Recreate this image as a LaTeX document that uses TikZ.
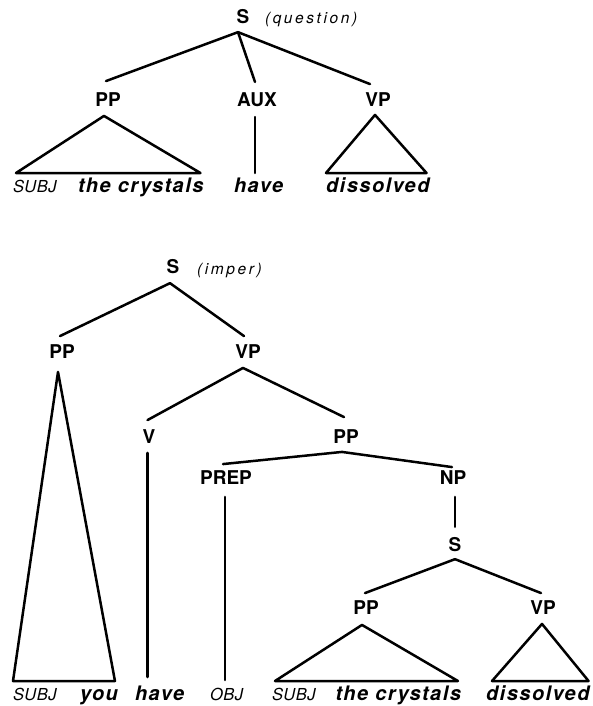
\documentclass[tikz,border=0pt]{standalone}
\usepackage{fontspec}
\newfontfamily\heros{TeX Gyre Heros}
\newfontfamily\herosw[LetterSpace=7.5]{TeX Gyre Heros}
\newfontfamily\herosr[LetterSpace=3]{TeX Gyre Heros}
\newfontfamily\herosls[LetterSpace=17]{TeX Gyre Heros}
\begin{document}
\begin{tikzpicture}[x=1pt,y=-1pt, line width=2.5pt, line join=round, line cap=round,
  cat/.style={font=\heros\bfseries\fontsize{19}{19}\selectfont, inner sep=0pt, outer sep=0pt, anchor=center},
  word/.style={font=\herosw\bfseries\itshape\fontsize{20}{20}\selectfont, inner sep=0pt, outer sep=0pt, anchor=base west, text height=19pt, text depth=0pt},
  role/.style={font=\herosr\itshape\fontsize{16.5}{16.5}\selectfont, inner sep=0pt, outer sep=0pt, anchor=base west, text height=19pt, text depth=0pt},
  note/.style={font=\herosls\itshape\fontsize{15.5}{15.5}\selectfont, inner sep=0pt, outer sep=0pt, anchor=base west}]
\useasboundingbox (0,0) rectangle (593,706);

% ---------- top tree ----------
\node[cat] (S1) at (243,17) {S};
\node[note] (q1) at (265,24) {(question)};
\node[cat] (PP1) at (108,100) {PP};
\node[cat] (AUX) at (257,100) {AUX};
\node[cat] (VP1) at (378,100) {VP};
\node[role] (subj1) at (13,192) {SUBJ};
\node[word] (crys1) at (78,192) {the crystals};
\node[word] (have1) at (234,192) {have};
\node[word] (dis1) at (326,192) {dissolved};

\draw ([shift={(-5,8)}]S1.south) -- ([shift={(-2,-12)}]PP1.north);
\draw ([shift={(-5,8)}]S1.south) -- ([shift={(-2,-11)}]AUX.north);
\draw ([shift={(-5,8)}]S1.south) -- ([shift={(-8,-9)}]VP1.north);
\draw ([shift={(-4,9)}]PP1.south) -- ([shift={(3,0)}]subj1.north west) -- ([shift={(-3,0)}]crys1.north east) -- cycle;
\draw ([shift={(-2,10)}]AUX.south) -- ([shift={(-2,0)}]AUX.south |- have1.north);
\draw ([shift={(-3,8)}]VP1.south) -- (dis1.north west) -- ([shift={(-3,0)}]dis1.north east) -- cycle;

% ---------- bottom tree ----------
\node[cat] (S2) at (173,267) {S};
\node[note] (q2) at (197,274) {(imper)};
\node[cat] (PP2) at (62,352) {PP};
\node[cat] (VP2) at (248,352) {VP};
\node[cat] (V) at (149,437) {V};
\node[cat] (PP3) at (346,437) {PP};
\node[cat] (PREP) at (226,478) {PREP};
\node[cat] (NP) at (453,478) {NP};
\node[cat] (S3) at (455,545) {S};
\node[cat] (PP4) at (366,608) {PP};
\node[cat] (VP3) at (543,608) {VP};

\node[role] (subj2) at (13,700) {SUBJ};
\node[word] (you) at (80,700) {you};
\node[word] (have2) at (135,700) {have};
\node[role] (obj) at (210,700) {OBJ};
\node[role] (subj3) at (272,700) {SUBJ};
\node[word] (crys2) at (335.5,700) {the crystals};
\node[word] (dis2) at (486,700) {dissolved};

\draw ([shift={(-3,9)}]S2.south) -- ([shift={(-2,-9)}]PP2.north);
\draw ([shift={(-3,9)}]S2.south) -- ([shift={(-4,-9)}]VP2.north);
\draw ([shift={(-4,13)}]PP2.south) -- (subj2.north west) -- ([shift={(-3,0)}]you.north east) -- cycle;
\draw ([shift={(-5,9)}]VP2.south) -- ([shift={(-1.5,-10)}]V.north);
\draw ([shift={(-5,9)}]VP2.south) -- ([shift={(-2,-13)}]PP3.north);
\draw ([shift={(-1.5,9)}]V.south) -- ([shift={(-1.5,-4)}]V.south |- have2.north);
\draw ([shift={(-4,8)}]PP3.south) -- ([shift={(-3,-7)}]PREP.north);
\draw ([shift={(-4,8)}]PP3.south) -- ([shift={(-1,-4)}]NP.north);
\draw ([shift={(-1,12)}]PREP.south) -- ([shift={(-1,-1)}]PREP.south |- obj.north);
\draw ([shift={(2,12)}]NP.south) -- ([shift={(0,-11)}]S3.north);
\draw ([shift={(0,7)}]S3.south) -- ([shift={(-1,-8)}]PP4.north);
\draw ([shift={(0,7)}]S3.south) -- ([shift={(-2,-8)}]VP3.north);
\draw ([shift={(-4,10)}]PP4.south) -- ([shift={(3,0)}]subj3.north west) -- ([shift={(-3,0)}]crys2.north east) -- cycle;
\draw ([shift={(-1,9)}]VP3.south) -- ([shift={(6,0)}]dis2.north west) -- ([shift={(-1,0)}]dis2.north east) -- cycle;
\end{tikzpicture}
\end{document}
